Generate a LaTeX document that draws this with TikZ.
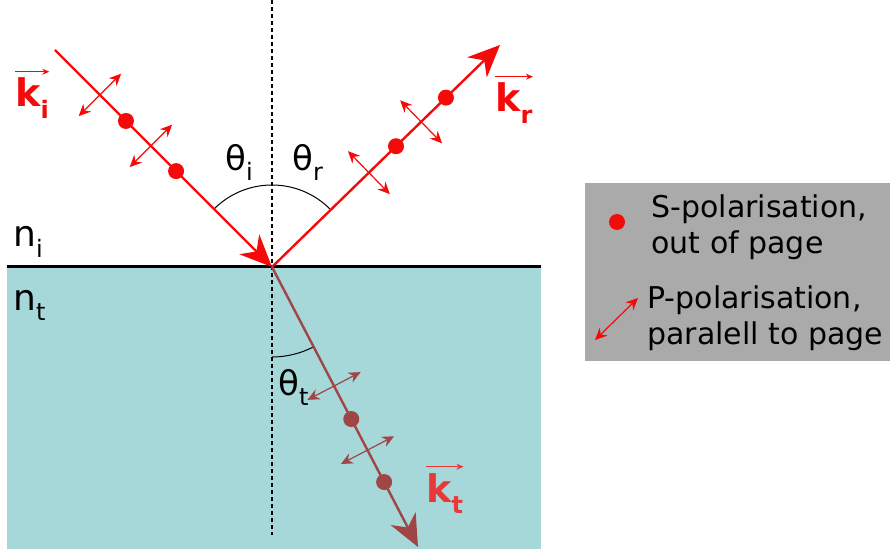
\documentclass[tikz,border=0pt]{standalone}
\usepackage{fontspec}
\setmainfont{DejaVu Sans}
\usepackage{tikz}
\usetikzlibrary{
    arrows.meta,
    calc
}

\definecolor{raycol}{RGB}{245,10,10}
\definecolor{transcol}{RGB}{160,70,70}
\definecolor{ktcol}{RGB}{232,56,56}
\definecolor{watercol}{RGB}{166,215,217}
\definecolor{legendcol}{RGB}{170,170,170}

\newcommand{\lowidx}[2]{\raisebox{-0.3em}{\fontsize{#1}{#1}\selectfont #2}}

\begin{document}
\begin{tikzpicture}[x=0.5pt,y=-0.5pt,
    ray/.style={line width=1.2pt},
    bigtip/.style={-{Stealth[length=16pt,width=14pt,inset=5pt]}},
    pol/.style={line width=0.6pt,{Stealth[length=6pt,width=5.5pt,inset=2pt]}-{Stealth[length=6pt,width=5.5pt,inset=2pt]}},
    vecarr/.style={line width=0.5pt,-{Stealth[length=3.5pt,width=3pt]}},
    lbl/.style={inner sep=0pt,anchor=base west},
    klbl/.style={lbl,font=\fontsize{19}{19}\selectfont\bfseries}
]
\useasboundingbox (0,0) rectangle (890,551);

% Medium
\fill[watercol] (7,267) rectangle (541,549);
\draw[line width=1.5pt] (7,267) -- (541,267);

% Normal
\draw[line width=0.9pt,dash pattern=on 2pt off 1.5pt] (272,0) -- (272,535);

% Ray end points
\coordinate (O) at (272,267);
\coordinate (I) at (55,50);
\coordinate (R) at (500,45);
\coordinate (T) at (418,547);

% Angles
\draw[line width=0.5pt] (O) ++(135:41pt) arc[start angle=135,end angle=45,radius=41pt];
\draw[line width=0.5pt] (O) ++(-90:45pt) arc[start angle=-90,end angle=-62.5,radius=45pt];

% Incident ray
\draw[ray,raycol,bigtip] (I) -- (O);
\foreach \f in {0.327,0.558}
    \fill[raycol] ($(I)!\f!(O)$) circle (4pt);
\foreach \f in {0.207,0.442}
    \draw[pol,raycol] ($(I)!\f!(O)!15pt!90:(O)$) -- ($(I)!\f!(O)!15pt!-90:(O)$);

% Reflected ray
\draw[ray,raycol,bigtip] (O) -- (R);
\foreach \f in {0.544,0.763}
    \fill[raycol] ($(O)!\f!(R)$) circle (4pt);
\foreach \f in {0.425,0.654}
    \draw[pol,raycol] ($(O)!\f!(R)!15pt!90:(R)$) -- ($(O)!\f!(R)!15pt!-90:(R)$);

% Transmitted ray
\draw[ray,transcol,bigtip] (O) -- (T);
\foreach \f in {0.543,0.768}
    \fill[transcol] ($(O)!\f!(T)$) circle (4pt);
\foreach \f in {0.425,0.654}
    \draw[pol,transcol] ($(O)!\f!(T)!15pt!90:(T)$) -- ($(O)!\f!(T)!15pt!-90:(T)$);

% Wave vectors
\node[klbl,text=raycol] (ki) at (15,107) {k\lowidx{12}{i}};
\node[klbl,text=raycol] (kr) at (495,112) {k\lowidx{12}{r}};
\node[klbl,text=ktcol] (kt) at (426,502) {k\lowidx{12}{t}};
\draw[vecarr,raycol] ([yshift=3pt]ki.north west) -- ([yshift=3pt]ki.north east);
\draw[vecarr,raycol] ([yshift=3pt]kr.north west) -- ([yshift=3pt]kr.north east);
\draw[vecarr,ktcol] ([yshift=3pt]kt.north west) -- ([yshift=3pt]kt.north east);

% Angle and index labels
\node[lbl,font=\fontsize{17}{17}\selectfont] (thetai) at (225,170) {θ\lowidx{12}{i}};
\node[lbl,font=\fontsize{17}{17}\selectfont] (thetar) at (292,170) {θ\lowidx{12}{r}};
\node[lbl,font=\fontsize{17}{17}\selectfont] (thetat) at (278,395) {θ\lowidx{12}{t}};
\node[lbl,font=\fontsize{18}{18}\selectfont] (ni) at (13,247) {n\lowidx{12}{i}};
\node[lbl,font=\fontsize{18}{18}\selectfont] (nt) at (13,310) {n\lowidx{12}{t}};

% Legend
\fill[legendcol] (585,183) rectangle (890,361);
\fill[raycol] (617,222) circle (4pt);
\coordinate (pa) at (595,340);
\coordinate (pb) at (638,298);
\draw[pol,raycol] (pa) -- (pb);
\node[inner sep=0pt,anchor=west,align=left,font=\fontsize{15}{18}\selectfont] (spol) at (651,227) {S-polarisation,\\out of page};
\node[inner sep=0pt,anchor=west,align=left,font=\fontsize{15}{18}\selectfont] (ppol) at (647,318) {P-polarisation,\\paralell to page};

\end{tikzpicture}
\end{document}
